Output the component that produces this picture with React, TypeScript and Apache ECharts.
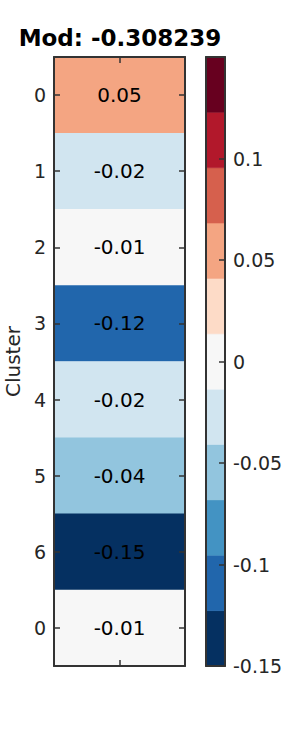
import React, { useEffect, useRef } from "react";
import * as echarts from "echarts";

const titleText = "Mod: -0.308239";
const yAxisName = "Cluster";
const clusterLabels = ["0", "1", "2", "3", "4", "5", "6", "0"];
const modValues = [0.05, -0.02, -0.01, -0.12, -0.02, -0.042, -0.15, -0.01];
const binColors = [
  "#053061", "#2166ac", "#4393c3", "#92c5de", "#d1e5f0", "#f7f7f7",
  "#fddbc7", "#f4a582", "#d6604d", "#b2182b", "#67001f",
];
const colorMin = -0.15;
const colorMax = 0.15;
const colorTickStep = 0.05;

const FONT = "DejaVu Sans";
const AX = "#333333";
const TXT = "#262626";

export default function App() {
  const ref = useRef<HTMLDivElement>(null);
  useEffect(() => {
    if (!ref.current) return;
    const chart = echarts.init(ref.current, undefined, { renderer: "svg" });
    const nBins = binColors.length;
    const step = (colorMax - colorMin) / nBins;
    const edges = binColors.map((_, i) => colorMin + i * step).concat([colorMax]);
    const pieces = binColors.map((c, i) => ({
      gte: i === 0 ? -1 : edges[i],
      lt: i === nBins - 1 ? 1 : edges[i + 1],
      color: c,
    }));
    const heatData = modValues.map((v, i) => [0, i, v]);
    const barData = binColors.map((_, i) => [0.5, edges[i], edges[i + 1]]);

    const frameAxis = (extra: any) => ({
      axisLine: { show: true, lineStyle: { color: AX, width: 2 } },
      axisTick: { show: true, inside: true, alignWithLabel: true, length: 6, lineStyle: { color: AX, width: 1.5 } },
      axisLabel: { show: false },
      splitLine: { show: false },
      z: 10,
      ...extra,
    });

    chart.setOption({
      animation: false,
      backgroundColor: "#ffffff",
      graphic: [
        {
          type: "text",
          x: 120,
          y: 38,
          style: {
            text: titleText,
            align: "center",
            verticalAlign: "middle",
            fontSize: 23,
            fontWeight: "bold",
            fontFamily: FONT,
            fill: "#000000",
          },
        },
      ],
      grid: [
        { left: 54, top: 57, width: 131, height: 609, containLabel: false, outerBoundsMode: "none" },
        { left: 206, top: 57, width: 19, height: 609, containLabel: false, outerBoundsMode: "none" },
      ],
      xAxis: [
        frameAxis({ gridIndex: 0, type: "category", data: [""], position: "bottom" }),
        frameAxis({ gridIndex: 0, type: "category", data: [""], position: "top" }),
        {
          gridIndex: 1, type: "value", min: 0, max: 1, position: "bottom",
          axisLine: { show: true, onZero: false, lineStyle: { color: AX, width: 2 } },
          axisTick: { show: false }, axisLabel: { show: false }, splitLine: { show: false }, z: 10,
        },
        {
          gridIndex: 1, type: "value", min: 0, max: 1, position: "top",
          axisLine: { show: true, onZero: false, lineStyle: { color: AX, width: 2 } },
          axisTick: { show: false }, axisLabel: { show: false }, splitLine: { show: false }, z: 10,
        },
      ],
      yAxis: [
        frameAxis({
          gridIndex: 0,
          type: "category",
          data: clusterLabels.map((_, i) => String(i)),
          inverse: true,
          position: "left",
          name: yAxisName,
          nameLocation: "middle",
          nameGap: 31,
          nameTextStyle: { fontSize: 20, fontFamily: FONT, color: TXT },
          axisLabel: {
            show: true,
            fontSize: 19,
            fontFamily: FONT,
            color: TXT,
            margin: 8,
            formatter: (_v: string, i: number) => clusterLabels[i],
          },
        }),
        frameAxis({
          gridIndex: 0,
          type: "category",
          data: clusterLabels.map((_, i) => String(i)),
          inverse: true,
          position: "right",
        }),
        {
          gridIndex: 1,
          type: "value",
          min: colorMin,
          max: colorMax,
          interval: colorTickStep,
          position: "right",
          axisLine: { show: true, onZero: false, lineStyle: { color: AX, width: 2 } },
          axisTick: { show: true, inside: true, length: 6, lineStyle: { color: AX, width: 1.5 } },
          axisLabel: {
            show: true,
            fontSize: 19,
            fontFamily: FONT,
            color: TXT,
            margin: 8,
            showMaxLabel: false,
            formatter: (v: number) => (Math.abs(v - colorMax) < 1e-9 ? "" : String(+v.toFixed(2))),
          },
          splitLine: { show: false },
          z: 10,
        },
        {
          gridIndex: 1, type: "value", min: colorMin, max: colorMax, position: "left",
          axisLine: { show: true, onZero: false, lineStyle: { color: AX, width: 2 } },
          axisTick: { show: false }, axisLabel: { show: false }, splitLine: { show: false }, z: 10,
        },
      ],
      visualMap: {
        type: "piecewise",
        show: false,
        seriesIndex: 0,
        dimension: 2,
        pieces,
      },
      series: [
        {
          type: "heatmap",
          xAxisIndex: 0,
          yAxisIndex: 0,
          data: heatData,
          label: {
            show: true,
            fontSize: 20,
            fontFamily: FONT,
            color: "#000000",
            formatter: (p: any) => (p.value[2] as number).toFixed(2),
          },
          itemStyle: { borderWidth: 0 },
          emphasis: { disabled: true },
        },
        {
          type: "custom",
          xAxisIndex: 2,
          yAxisIndex: 2,
          data: barData,
          encode: { x: 0, y: [1, 2] },
          renderItem: (params: any, api: any) => {
            const lo = api.value(1);
            const hi = api.value(2);
            const p1 = api.coord([0, hi]);
            const p2 = api.coord([1, lo]);
            return {
              type: "rect",
              shape: { x: p1[0], y: p1[1], width: p2[0] - p1[0], height: p2[1] - p1[1] },
              style: { fill: binColors[params.dataIndex], stroke: binColors[params.dataIndex], lineWidth: 0.5 },
            };
          },
          silent: true,
        },
      ],
    });
    return () => chart.dispose();
  }, []);
  return (
    <div
      ref={ref}
      style={{ position: "absolute", left: 0, top: 0, width: 300, height: 750 }}
    />
  );
}
